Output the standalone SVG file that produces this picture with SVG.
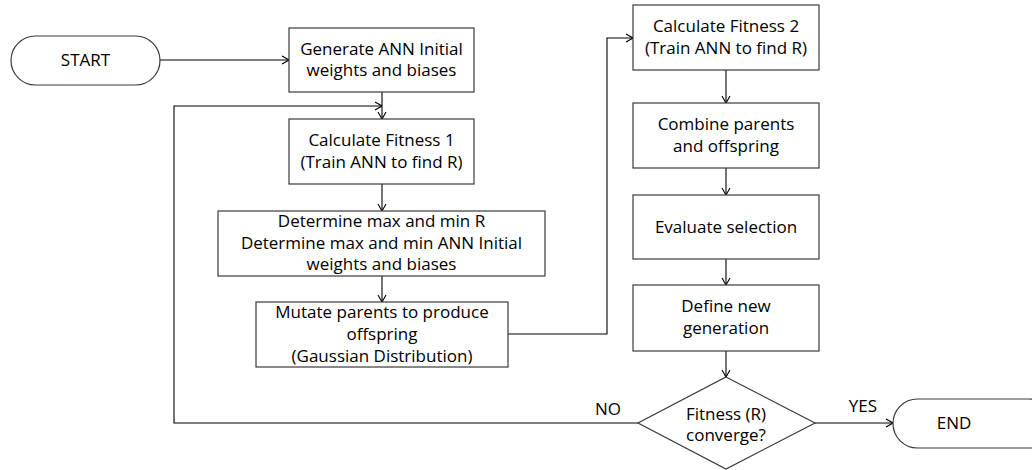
<svg xmlns="http://www.w3.org/2000/svg" width="1032" height="470" viewBox="0 0 1032 470">
<defs>
<style>
.box{fill:#fff;stroke:#3a3a3a;stroke-width:1.2}
.ln{fill:none;stroke:#000;stroke-width:1.1}
text{font-family:"Open Sans","Liberation Sans",sans-serif;font-size:17px;fill:#000;text-anchor:middle}
</style>
<marker id="ah" viewBox="0 0 10 10" refX="10" refY="5" markerWidth="10" markerHeight="10" markerUnits="userSpaceOnUse" orient="auto">
<path d="M3,1 L10,5 L3,9" fill="none" stroke="#000" stroke-width="1.1"/>
</marker>
</defs>
<rect width="1032" height="470" fill="#fff"/>
<g id="connectors">
<path class="ln" d="M160,60 H289" marker-end="url(#ah)"/>
<path class="ln" d="M382,92 V119" marker-end="url(#ah)"/>
<path class="ln" d="M638,423 H174 V106 H382" marker-end="url(#ah)"/>
<path class="ln" d="M382,184 V211" marker-end="url(#ah)"/>
<path class="ln" d="M382,276 V302" marker-end="url(#ah)"/>
<path class="ln" d="M508,334 H607 V38 H633" marker-end="url(#ah)"/>
<path class="ln" d="M726,70 V103" marker-end="url(#ah)"/>
<path class="ln" d="M726,168 V195" marker-end="url(#ah)"/>
<path class="ln" d="M726,259 V285" marker-end="url(#ah)"/>
<path class="ln" d="M726,351 V377" marker-end="url(#ah)"/>
<path class="ln" d="M815,423 H893" marker-end="url(#ah)"/>
<text x="608" y="415">NO</text>
<text x="863" y="412">YES</text>
</g>
<g id="start">
<rect class="box" x="11" y="36" width="149" height="49" rx="24.5"/>
<text x="85.5" y="66">START</text>
</g>
<g id="generate">
<rect class="box" x="289" y="28" width="185" height="64"/>
<text x="381.5" y="54.5">Generate ANN Initial</text>
<text x="381.5" y="76">weights and biases</text>
</g>
<g id="fitness1">
<rect class="box" x="289" y="119" width="185" height="65"/>
<text x="381.5" y="146">Calculate Fitness 1</text>
<text x="381.5" y="168">(Train ANN to find R)</text>
</g>
<g id="determine">
<rect class="box" x="218" y="211" width="327" height="65"/>
<text x="381.5" y="227">Determine max and min R</text>
<text x="381.5" y="248.5">Determine max and min ANN Initial</text>
<text x="381.5" y="270">weights and biases</text>
</g>
<g id="mutate">
<rect class="box" x="256" y="302" width="252" height="65"/>
<text x="382" y="318">Mutate parents to produce</text>
<text x="382" y="340">offspring</text>
<text x="382" y="362">(Gaussian Distribution)</text>
</g>
<g id="fitness2">
<rect class="box" x="633" y="5" width="186" height="65"/>
<text x="726" y="32">Calculate Fitness 2</text>
<text x="726" y="54">(Train ANN to find R)</text>
</g>
<g id="combine">
<rect class="box" x="633" y="103" width="186" height="65"/>
<text x="726" y="130">Combine parents</text>
<text x="726" y="152">and offspring</text>
</g>
<g id="evaluate">
<rect class="box" x="633" y="195" width="186" height="64"/>
<text x="726" y="233">Evaluate selection</text>
</g>
<g id="define">
<rect class="box" x="633" y="285" width="186" height="66"/>
<text x="726" y="312">Define new</text>
<text x="726" y="334">generation</text>
</g>
<g id="decision">
<polygon class="box" points="726,377 815,423 726,469 638,423"/>
<text x="726" y="420">Fitness (R)</text>
<text x="726" y="441">converge?</text>
</g>
<g id="end">
<rect class="box" x="893" y="399" width="160" height="49" rx="24.5"/>
<text x="954" y="429">END</text>
</g>
</svg>
